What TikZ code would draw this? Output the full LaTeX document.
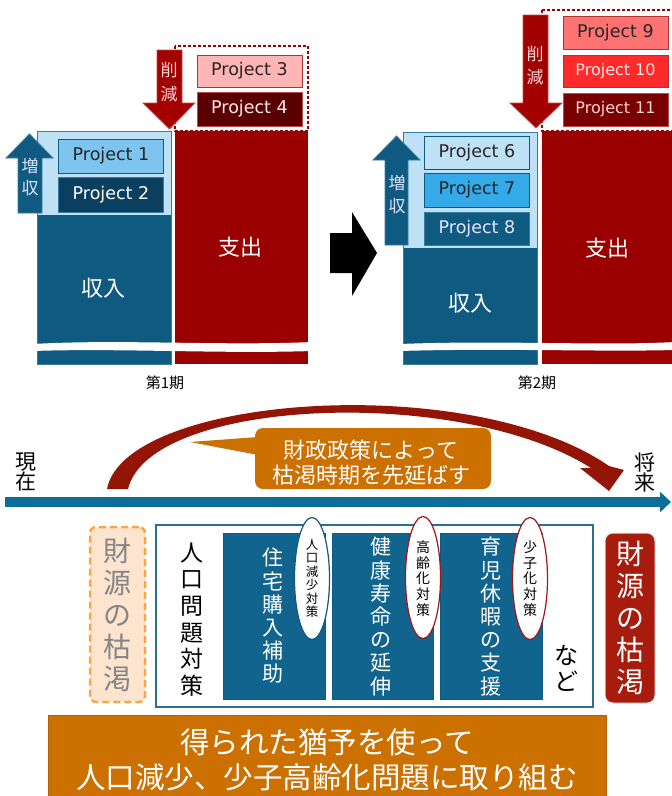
\documentclass[tikz,border=0pt]{standalone}
\usepackage{fontspec}
\setmainfont{DejaVu Sans}
\newfontfamily\jp{Noto Sans CJK JP}
\usetikzlibrary{shapes.geometric,arrows.meta}
\definecolor{colblue}{HTML}{0F5A80}
\definecolor{colblueline}{HTML}{3A7BA2}
\definecolor{panelblue}{HTML}{BFE1F5}
\definecolor{pone}{HTML}{7DC5EE}
\definecolor{ptwo}{HTML}{0B3F5F}
\definecolor{pseven}{HTML}{35AAE8}
\definecolor{colred}{HTML}{9B0000}
\definecolor{pthree}{HTML}{FFB5B5}
\definecolor{pfour}{HTML}{5A0000}
\definecolor{pnine}{HTML}{FF7272}
\definecolor{pten}{HTML}{FF2A2A}
\definecolor{peleven}{HTML}{780000}
\definecolor{arrred}{HTML}{A30000}
\definecolor{timeblue}{HTML}{0E6D99}
\definecolor{curvred}{HTML}{941405}
\definecolor{orng}{HTML}{CC7000}
\definecolor{orngline}{HTML}{B36200}
\definecolor{boxblue}{HTML}{10648E}
\definecolor{boxline}{HTML}{2C6E92}
\definecolor{peach}{HTML}{FCE4CF}
\definecolor{peachline}{HTML}{F8A646}
\definecolor{darkred}{HTML}{A81C0E}
\definecolor{ellred}{HTML}{A01818}
\tikzset{
  proj/.style={minimum width=105pt, inner sep=0pt, line width=1pt,
    font=\fontsize{17.5}{20}\selectfont},
  coltext/.style={text=white, font=\jp\fontsize{22}{26}\selectfont, inner sep=0pt},
  pertext/.style={font=\jp\fontsize{15}{18}\selectfont, inner sep=0pt},
  vtext/.style={align=center, inner sep=0pt},
  bluebox/.style={fill=boxblue, draw=colblue, line width=0.8pt, inner sep=0pt,
    minimum width=102pt, minimum height=166pt},
  tag/.style={ellipse, fill=white, line width=1.2pt, inner sep=0pt,
    minimum width=35pt, minimum height=122pt},
}
\begin{document}
\begin{tikzpicture}[x=1pt,y=-1pt]
\useasboundingbox (0,0) rectangle (672,796);

% ---------------- period 1 ----------------
\fill[colblue] (37,131) rectangle (171,364);
\fill[panelblue] (37,131) rectangle (171,215);
\draw[colblueline, line width=0.8pt] (37,131) rectangle (171,364);
\fill[colred] (175,131) rectangle (308,364);
\draw[colred, line width=1.3pt, dash pattern=on 3pt off 2pt] (175,46) rectangle (308,131);
\fill[white] (33,344) .. controls (120,339) and (220,346) .. (312,342) -- (312,351)
  .. controls (220,354) and (120,348) .. (33,351) -- cycle;

\node[proj, minimum height=34pt, fill=pone, draw=colblue, text=black!85] (p1) at (111,156) {Project 1};
\node[proj, minimum height=35pt, fill=ptwo, draw=colblueline, text=white] (p2) at (111,194.5) {Project 2};
\node[proj, minimum height=32pt, fill=pthree, draw=colred!80, text=black!85] (p3) at (249.5,71) {Project 3};
\node[proj, minimum height=34pt, fill=pfour, draw=colred!70, text=white!92!red] (p4) at (249.5,109) {Project 4};

\draw[fill=colblue, draw=colblueline, line width=0.8pt]
  (18,213) -- (18,158) -- (6,158) -- (29.5,134) -- (53,158) -- (42,158) -- (42,213) -- cycle;
\node[vtext, text=white!88!blue, font=\jp\fontsize{17}{22}\selectfont] (up1) at (30,177) {増\\収};
\draw[fill=arrred, draw=arrred!70!white, line width=0.8pt]
  (157,50) -- (182,50) -- (182,103) -- (195,103) -- (169.5,129) -- (143,103) -- (157,103) -- cycle;
\node[vtext, text=white!85!red, font=\jp\fontsize{17}{24}\selectfont] (dn1) at (169,82) {削\\減};

\node[coltext] (in1) at (103,288) {収入};
\node[coltext] (out1) at (240,247) {支出};
\node[pertext] (per1) at (165,383) {第1期};

% ---------------- arrow between ----------------
\fill[black] (330,233) -- (352,233) -- (352,212) -- (377,253) -- (352,296) -- (352,273) -- (330,273) -- cycle;

% ---------------- period 2 ----------------
\fill[colblue] (403,132) rectangle (537,364);
\fill[panelblue] (403,132) rectangle (537,248);
\draw[colblueline, line width=0.8pt] (403,132) rectangle (537,364);
\fill[colred] (542,131) rectangle (675,364);
\draw[colred, line width=1.3pt, dash pattern=on 3pt off 2pt] (542,10) rectangle (690,131);
\fill[white] (400,344) .. controls (500,340) and (600,346) .. (675,342) -- (675,350)
  .. controls (600,352) and (500,348) .. (400,351) -- cycle;

\node[proj, minimum height=33pt, fill=panelblue, draw=colblue, text=black!85] (p6) at (477,152.5) {Project 6};
\node[proj, minimum height=34pt, fill=pseven, draw=colblue, text=black!85] (p7) at (477,190) {Project 7};
\node[proj, minimum height=33pt, fill=colblue, draw=colblueline, text=white!90!blue] (p8) at (477,228.5) {Project 8};
\node[proj, minimum height=33pt, fill=pnine, draw=colred!80, text=black!85] (p9) at (615.5,32.5) {Project 9};
\node[proj, minimum height=32pt, fill=pten, draw=colred!80, text=white!90!red, font=\fontsize{16}{18}\selectfont] (p10) at (615.5,71) {Project 10};
\node[proj, minimum height=33pt, fill=peleven, draw=colred!70, text=white!82!red, font=\fontsize{16}{18}\selectfont] (p11) at (615.5,109.5) {Project 11};

\draw[fill=colblue, draw=colblueline, line width=0.8pt]
  (385,245) -- (385,160) -- (373,160) -- (396.5,136) -- (420,160) -- (408,160) -- (408,245) -- cycle;
\node[vtext, text=white!88!blue, font=\jp\fontsize{17}{23}\selectfont] (up2) at (397,195) {増\\収};
\draw[fill=arrred, draw=arrred!70!white, line width=0.8pt]
  (523,15) -- (548,15) -- (548,103) -- (562,103) -- (536,128) -- (510,103) -- (523,103) -- cycle;
\node[vtext, text=white!85!red, font=\jp\fontsize{17}{23}\selectfont] (dn2) at (535,65.5) {削\\減};

\node[coltext] (in2) at (470,303) {収入};
\node[coltext] (out2) at (607,248) {支出};
\node[pertext] (per2) at (537,383) {第2期};

% ---------------- timeline ----------------
\coordinate (tl0) at (5,502);
\coordinate (tl1) at (671,502);
\draw[timeblue, line width=10pt, -{Triangle[length=11pt,width=20pt]}] (tl0) -- (tl1);
\node[vtext, font=\jp\fontsize{21}{20}\selectfont] (now) at (26,472) {現\\在};
\node[vtext, font=\jp\fontsize{21}{20}\selectfont] (fut) at (645,472) {将\\来};

\fill[curvred] (107,489) .. controls (125,395) and (470,370) .. (609,466)
  -- (624,470) -- (609,491) -- (580,468) -- (591,468)
  .. controls (460,385) and (150,398) .. (128,489) -- cycle;

\fill[orng] (258,437) -- (190,442) -- (258,455) -- cycle;
\fill[orng, rounded corners=8pt] (255,428) rectangle (491,489);
\node[vtext, text=white, font=\jp\fontsize{22}{25}\selectfont] (cb) at (371,462.5)
  {財政政策によって\\枯渇時期を先延ばす};

% ---------------- measures ----------------
\node[draw=peachline, fill=peach, line width=2.5pt, dash pattern=on 7pt off 4pt,
  rounded corners=6pt, minimum width=55pt, minimum height=175pt, inner sep=0pt]
  (src1) at (117.5,614.5) {};
\node[vtext, text=black!48, font=\jp\fontsize{28}{32}\selectfont] at (src1) {財\\源\\の\\枯\\渇};

\node[draw=boxline, fill=white, line width=1.5pt, minimum width=437pt,
  minimum height=182pt, inner sep=0pt] (frame) at (374.5,616) {};
\node[vtext, font=\jp\fontsize{23}{26.6}\selectfont] (pop) at (192,619.5)
  {人\\口\\問\\題\\対\\策};

\node[bluebox] (b1) at (274,616) {};
\node[bluebox, minimum width=101pt] (b2) at (382.5,616) {};
\node[bluebox] (b3) at (491,616) {};
\node[vtext, text=white, font=\jp\fontsize{21}{23.2}\selectfont] (t1) at (273,616)
  {住\\宅\\購\\入\\補\\助};
\node[vtext, text=white, font=\jp\fontsize{21}{23.2}\selectfont] (t2) at (381,616.5)
  {健\\康\\寿\\命\\の\\延\\伸};
\node[vtext, text=white, font=\jp\fontsize{21}{23.2}\selectfont] (t3) at (491,616.5)
  {育\\児\\休\\暇\\の\\支\\援};

\node[tag, draw=colblue] (e1) at (312,578.5) {};
\node[tag, draw=ellred] (e2) at (423,577.5) {};
\node[tag, draw=ellred] (e3) at (530,578.5) {};
\node[vtext, font=\jp\fontsize{12.5}{13.4}\selectfont] at (e1) {人\\口\\減\\少\\対\\策};
\node[vtext, font=\jp\fontsize{14}{15.75}\selectfont] at (423,578.5) {高\\齢\\化\\対\\策};
\node[vtext, font=\jp\fontsize{14}{15.75}\selectfont] at (530,578.5) {少\\子\\化\\対\\策};

\node[vtext, font=\jp\fontsize{24}{26}\selectfont] (etc) at (566,668) {な\\ど};

\node[fill=darkred, draw=black!12, line width=1pt, rounded corners=8pt,
  minimum width=50pt, minimum height=170pt, inner sep=0pt] (src2) at (630,618) {};
\node[vtext, text=white, font=\jp\fontsize{28}{32}\selectfont] at (src2) {財\\源\\の\\枯\\渇};

% ---------------- bottom ----------------
\node[fill=orng, draw=orngline, line width=0.8pt, minimum width=558pt,
  minimum height=90pt, inner sep=0pt] (goal) at (327,760) {};
\node[vtext, text=white, font=\jp\fontsize{29.5}{35}\selectfont] (goalt) at (327,759.5)
  {得られた猶予を使って\\人口減少、少子高齢化問題に取り組む};
\end{tikzpicture}
\end{document}
